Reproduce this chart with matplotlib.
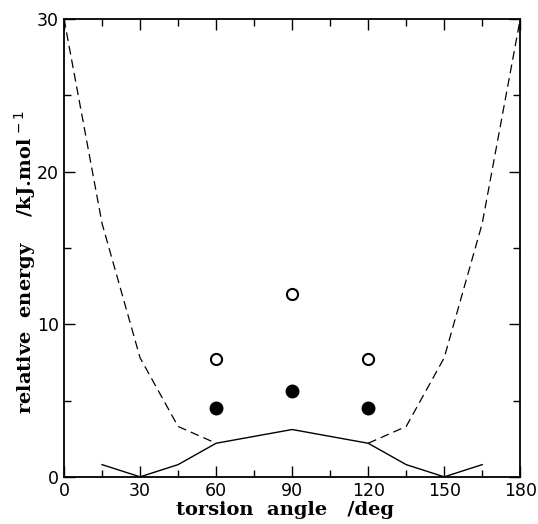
import matplotlib.pyplot as plt
from matplotlib.ticker import MultipleLocator

# dashed curve (upper) and solid curve (lower), torsion angle in deg
dash_x = [0, 15, 30, 45, 60, 90, 120, 135, 150, 165, 180]
dash_y = [30.0, 16.6, 7.8, 3.3, 2.2, None, 2.2, 3.3, 7.8, 16.6, 30.0]
solid_x = [15, 30, 45, 60, 90, 120, 135, 150, 165]
solid_y = [0.8, 0.0, 0.8, 2.2, 3.1, 2.2, 0.8, 0.0, 0.8]

# discrete points
pts_x = [60, 90, 120]
open_y = [7.7, 12.0, 7.7]
filled_y = [4.5, 5.6, 4.5]

fig = plt.figure(figsize=(5.38, 5.24), dpi=100)
ax = fig.add_axes([0.119, 0.090, 0.848, 0.874])

left = [(x, y) for x, y in zip(dash_x, dash_y) if y is not None and x <= 60]
right = [(x, y) for x, y in zip(dash_x, dash_y) if y is not None and x >= 120]
for seg in (left, right):
    ax.plot([p[0] for p in seg], [p[1] for p in seg], color="black",
            lw=0.9, dashes=(7, 4))
ax.plot(solid_x, solid_y, color="black", lw=1.0)

ax.plot(pts_x, open_y, "o", mfc="white", mec="black", mew=1.5, ms=8)
ax.plot(pts_x, filled_y, "o", color="black", ms=9)

ax.set_xlim(0, 180)
ax.set_ylim(0, 30)
ax.xaxis.set_major_locator(MultipleLocator(30))
ax.xaxis.set_minor_locator(MultipleLocator(15))
ax.yaxis.set_major_locator(MultipleLocator(10))
ax.yaxis.set_minor_locator(MultipleLocator(5))
ax.tick_params(which="both", direction="in", top=True, right=True,
               width=1.0, labelsize=12.5)
ax.tick_params(which="major", length=8)
ax.tick_params(which="minor", length=5)
for s in ax.spines.values():
    s.set_linewidth(1.3)
for lab in ax.get_xticklabels() + ax.get_yticklabels():
    lab.set_fontfamily("DejaVu Sans")

ax.set_xlabel("torsion  angle   /deg", fontsize=14, fontweight="bold",
              family="DejaVu Serif", labelpad=1)
ax.set_ylabel("relative  energy    /kJ.mol$^{\\,-1}$", fontsize=14,
              fontweight="bold", family="DejaVu Serif")
ax.yaxis.set_label_coords(-0.057, 0.47)
ax.xaxis.set_label_coords(0.485, -0.052)

fig.savefig("out.png", dpi=100)
